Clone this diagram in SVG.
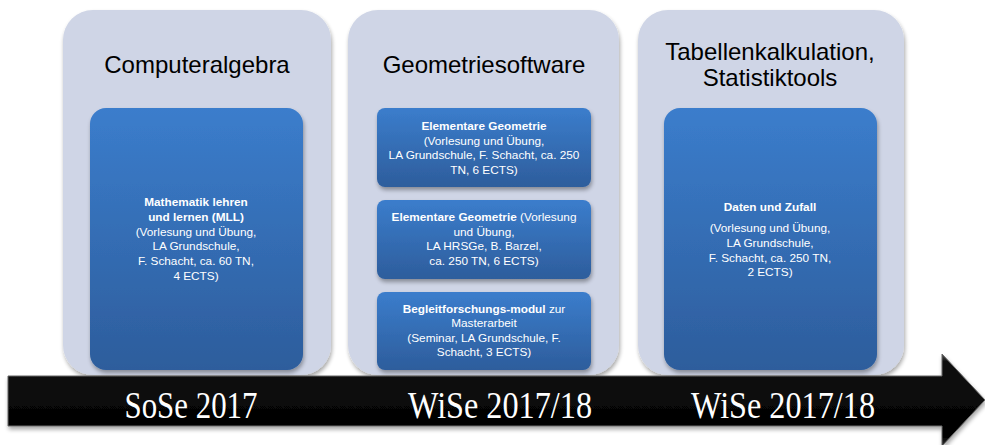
<svg xmlns="http://www.w3.org/2000/svg" width="985" height="445" viewBox="0 0 985 445">
<defs>
<linearGradient id="blue" x1="0" y1="0" x2="0" y2="1">
<stop offset="0" stop-color="#3b7dcc"/>
<stop offset="1" stop-color="#2d5d9c"/>
</linearGradient>
<linearGradient id="arr" x1="0" y1="0" x2="0" y2="1">
<stop offset="0" stop-color="#555"/>
<stop offset="0.08" stop-color="#111"/>
<stop offset="0.9" stop-color="#000"/>
<stop offset="1" stop-color="#333"/>
</linearGradient>
<filter id="sh" x="-10%" y="-10%" width="120%" height="125%">
<feGaussianBlur in="SourceAlpha" stdDeviation="2"/>
<feOffset dx="1" dy="3"/>
<feComponentTransfer><feFuncA type="linear" slope="0.35"/></feComponentTransfer>
<feMerge><feMergeNode/><feMergeNode in="SourceGraphic"/></feMerge>
</filter>
</defs>
<style>
.panel{fill:#cfd5e6;filter:url(#sh)}
.box{fill:url(#blue);filter:url(#sh)}
.title{font-family:"Liberation Sans",Arial,sans-serif;font-size:24px;fill:#000;text-anchor:middle}
.t{font-family:"Liberation Sans",Arial,sans-serif;font-size:11.8px;fill:#fff;text-anchor:middle}
.b{font-weight:bold}
.sem{font-family:"Liberation Serif","Times New Roman",serif;font-size:38px;fill:#fff;text-anchor:middle}
</style>
<rect width="985" height="445" fill="#fff"/>

<g id="panel-computeralgebra">
<rect class="panel" x="63" y="10" width="268" height="365" rx="30"/>
<text class="title" x="197" y="73">Computeralgebra</text>
<g id="node-mll">
<rect class="box" x="90" y="108" width="213" height="262" rx="16"/>
<text class="t" x="196" y="206"><tspan class="b">Mathematik lehren</tspan><tspan class="b" x="196" dy="14.8">und lernen (MLL)</tspan><tspan x="196" dy="14.8">(Vorlesung und Übung,</tspan><tspan x="196" dy="14.8">LA Grundschule,</tspan><tspan x="196" dy="14.8">F. Schacht, ca. 60 TN,</tspan><tspan x="196" dy="14.8">4 ECTS)</tspan></text>
</g>
</g>

<g id="panel-geometriesoftware">
<rect class="panel" x="348" y="10" width="271" height="365" rx="30"/>
<text class="title" x="484" y="73">Geometriesoftware</text>
<g id="node-eg1">
<rect class="box" x="377" y="108" width="214" height="79" rx="8"/>
<text class="t" x="484" y="130"><tspan class="b">Elementare Geometrie</tspan><tspan x="484" dy="14.5">(Vorlesung und Übung,</tspan><tspan x="484" dy="14.5">LA Grundschule, F. Schacht, ca. 250</tspan><tspan x="484" dy="14.5">TN, 6 ECTS)</tspan></text>
</g>
<g id="node-eg2">
<rect class="box" x="377" y="200" width="214" height="79" rx="8"/>
<text class="t" x="484" y="221"><tspan class="b">Elementare Geometrie</tspan> (Vorlesung<tspan x="484" dy="14.5">und Übung,</tspan><tspan x="484" dy="14.5">LA HRSGe, B. Barzel,</tspan><tspan x="484" dy="14.5">ca. 250 TN, 6 ECTS)</tspan></text>
</g>
<g id="node-begleit">
<rect class="box" x="377" y="292" width="214" height="78" rx="8"/>
<text class="t" x="484" y="313"><tspan class="b">Begleitforschungs-modul</tspan> zur<tspan x="484" dy="14.3">Masterarbeit</tspan><tspan x="484" dy="14.3">(Seminar, LA Grundschule, F.</tspan><tspan x="484" dy="14.3">Schacht, 3 ECTS)</tspan></text>
</g>
</g>

<g id="panel-tabellen">
<rect class="panel" x="638" y="10" width="266" height="365" rx="30"/>
<text class="title" x="770" y="60">Tabellenkalkulation,</text>
<text class="title" x="770" y="86">Statistiktools</text>
<g id="node-daten">
<rect class="box" x="664" y="108" width="213" height="262" rx="16"/>
<text class="t" x="770" y="211"><tspan class="b">Daten und Zufall</tspan><tspan x="770" dy="21">(Vorlesung und Übung,</tspan><tspan x="770" dy="14.8">LA Grundschule,</tspan><tspan x="770" dy="14.8">F. Schacht, ca. 250 TN,</tspan><tspan x="770" dy="14.8">2 ECTS)</tspan></text>
</g>
</g>

<g id="connectors">
<g id="timeline">
<polygon points="8,376 942,376 942,354 985,400 942,446 942,426 8,426" fill="url(#arr)" stroke="#666" stroke-width="1" filter="url(#sh)"/>
<text class="sem" x="191" y="418" textLength="133" lengthAdjust="spacingAndGlyphs">SoSe 2017</text>
<text class="sem" x="500" y="418" textLength="184" lengthAdjust="spacingAndGlyphs">WiSe 2017/18</text>
<text class="sem" x="783" y="418" textLength="184" lengthAdjust="spacingAndGlyphs">WiSe 2017/18</text>
</g>
</g>
</svg>
